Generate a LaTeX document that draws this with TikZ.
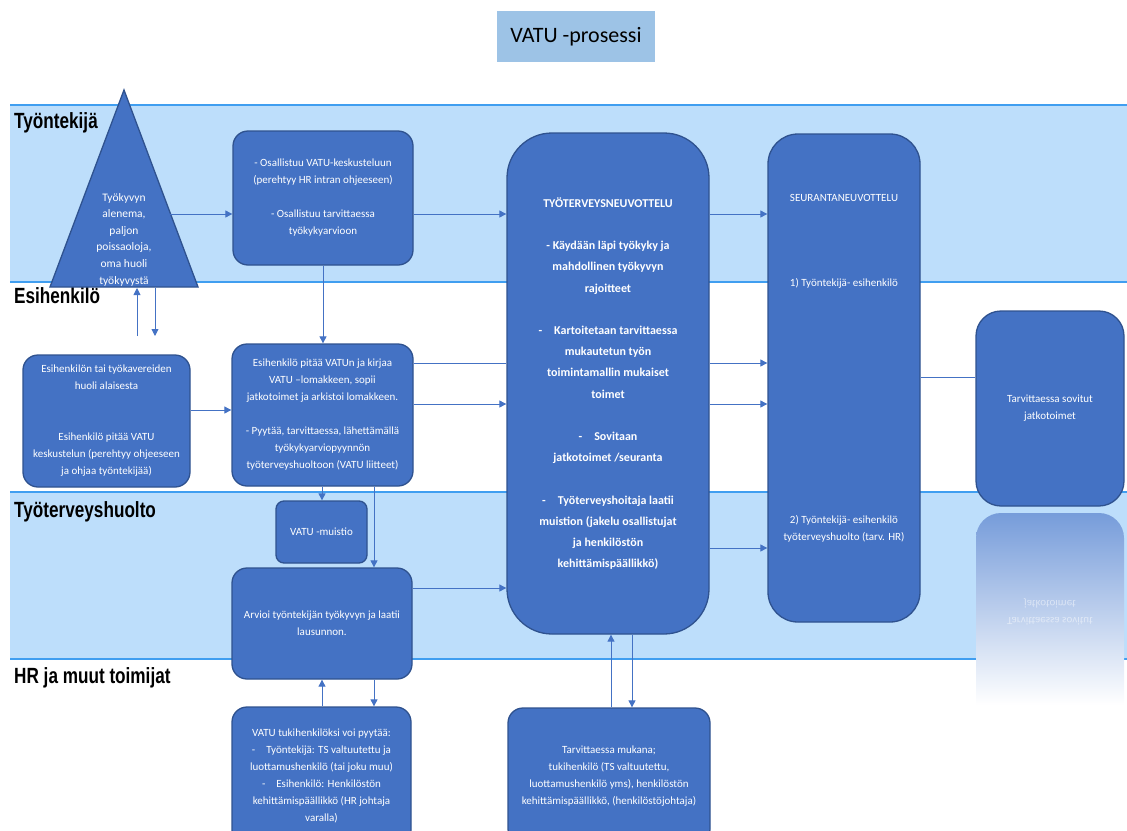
\documentclass[tikz,border=0pt]{standalone}
\usepackage{fontspec}
\setmainfont{Carlito}
\newfontfamily\lanefont{Liberation Sans}
\usetikzlibrary{arrows.meta}
\definecolor{laneblue}{RGB}{189,222,251}
\definecolor{laneline}{RGB}{64,158,240}
\definecolor{boxfill}{RGB}{68,114,196}
\definecolor{boxedge}{RGB}{47,82,143}
\definecolor{titlefill}{RGB}{157,195,230}
\definecolor{reflcol}{RGB}{118,156,218}
\newcommand{\lanetxt}[1]{{\lanefont\bfseries\fontsize{22}{24}\selectfont\scalebox{0.78}[1]{#1}}}
\begin{document}
\begin{tikzpicture}[x=1pt,y=1pt,
  box/.style={draw=boxedge, line width=1.3pt, fill=boxfill, text=white, align=center, inner sep=0pt, font=\fontsize{11}{17}\selectfont},
  boxtext/.style={text=white, align=center, inner sep=0pt, font=\fontsize{11}{17}\selectfont},
  arr/.style={draw=boxfill, line width=0.9pt, -{Triangle[length=7pt,width=7pt]}},
  conn/.style={draw=boxfill, line width=0.9pt},
  lanelabel/.style={anchor=base west, inner sep=0pt, text=black},
  laneedge/.style={draw=laneline, line width=2pt}
]
\useasboundingbox (0,0) rectangle (1127,-830);
\clip (0,0) rectangle (1127,-830);

% title
\node[fill=titlefill, minimum width=158pt, minimum height=51pt, inner sep=0pt, font=\fontsize{22}{26}\selectfont] (title) at (576,-36.5) {VATU -prosessi};

% lanes
\fill[laneblue] (10,-105) rectangle (1127,-282);
\fill[laneblue] (10,-492) rectangle (1127,-658.5);
\draw[laneedge] (10,-105) -- (1127,-105);
\draw[laneedge] (10,-282) -- (1127,-282);
\draw[laneedge] (10,-492) -- (1127,-492);
\draw[laneedge] (10,-658.5) -- (1127,-658.5);

\node[lanelabel] (l1) at (14,-128) {\lanetxt{Työntekijä}};
\node[lanelabel] (l2) at (14,-303) {\lanetxt{Esihenkilö}};
\node[lanelabel] (l3) at (14,-517) {\lanetxt{Työterveyshuolto}};
\node[lanelabel] (l4) at (14,-683) {\lanetxt{HR ja muut toimijat}};

% triangle
\path[draw=boxedge, line width=1.3pt, fill=boxfill] (124,-90) -- (198,-287) -- (50,-287) -- cycle;
\node[boxtext, font=\fontsize{11.5}{16.6}\selectfont] (tri) at (124,-239.5) {Työkyvyn\\alenema,\\paljon\\poissaoloja,\\oma huoli\\työkyvystä};

% boxes
\node[box, rounded corners=15pt, minimum width=180pt, minimum height=134pt] (A) at (323,-198)
  {- Osallistuu VATU-keskusteluun\\(perehtyy HR intran ohjeeseen)\\[17pt]- Osallistuu tarvittaessa\\työkykyarvioon};
\node[box, rounded corners=15pt, minimum width=167pt, minimum height=132pt] (B) at (106.5,-421)
  {Esihenkilön tai työkavereiden\\huoli alaisesta\\[34pt]Esihenkilö pitää VATU\\keskustelun (perehtyy ohjeeseen\\ja ohjaa työntekijää)};
\node[box, rounded corners=15pt, minimum width=181pt, minimum height=142pt] (C) at (322.5,-415)
  {Esihenkilö pitää VATUn ja kirjaa\\VATU –lomakkeen, sopii\\jatkotoimet ja arkistoi lomakkeen.\\[17pt]- Pyytää, tarvittaessa, lähettämällä\\työkykyarviopyynnön\\työterveyshuoltoon (VATU liitteet)};
\node[box, rounded corners=8pt, minimum width=91pt, minimum height=62pt] (D) at (321.5,-532) {VATU -muistio};
\node[box, rounded corners=15pt, minimum width=180pt, minimum height=111pt] (E) at (322,-623.5)
  {Arvioi työntekijän työkyvyn ja laatii\\lausunnon.};
\node[box, rounded corners=15pt, minimum width=179pt, minimum height=138pt] (F) at (321.5,-776)
  {VATU tukihenkilöksi voi pyytää:\\-\quad Työntekijä: TS valtuutettu ja\\luottamushenkilö (tai joku muu)\\-\quad Esihenkilö: Henkilöstön\\kehittämispäällikkö (HR johtaja\\varalla)};
\node[box, rounded corners=15pt, minimum width=202pt, minimum height=136pt] (G) at (609,-776)
  {Tarvittaessa mukana;\\tukihenkilö (TS valtuutettu,\\luottamushenkilö yms), henkilöstön\\kehittämispäällikkö, (henkilöstöjohtaja)};
\node[box, rounded corners=45pt, minimum width=202pt, minimum height=501pt, font=\bfseries\fontsize{12}{21.2}\selectfont] (H) at (608,-383.5)
  {TYÖTERVEYSNEUVOTTELU\\[21.2pt]- Käydään läpi työkyky ja\\mahdollinen työkyvyn\\rajoitteet\\[21.2pt]-\quad Kartoitetaan tarvittaessa\\mukautetun työn\\toimintamallin mukaiset\\toimet\\[21.2pt]-\quad Sovitaan\\jatkotoimet /seuranta\\[21.2pt]-\quad Työterveyshoitaja laatii\\muistion (jakelu osallistujat\\ja henkilöstön\\kehittämispäällikkö)};
\node[box, rounded corners=30pt, minimum width=152pt, minimum height=488pt] (I) at (844,-378) {};
\node[boxtext] (I1) at (844,-198) {SEURANTANEUVOTTELU};
\node[boxtext] (I2) at (844,-283) {1) Työntekijä- esihenkilö};
\node[boxtext] (I3) at (844,-529) {2) Työntekijä- esihenkilö\\työterveyshuolto (tarv. HR)};

% reflection under J
\shade[top color=reflcol, bottom color=white] (976,-705) -- (976,-538) arc(180:90:25) -- (1099,-513) arc(90:0:25) -- (1124,-705) -- cycle;
\node[boxtext, yscale=-1, transform shape, text opacity=0.5] (Jr) at (1050,-612) {Tarvittaessa sovitut\\jatkotoimet};
\node[box, rounded corners=25pt, minimum width=148pt, minimum height=195pt] (J) at (1050,-408.5)
  {Tarvittaessa sovitut\\jatkotoimet};

% connectors
\coordinate (t1) at (170,-214);
\draw[arr] (t1) -- (t1 -| A.west);
\draw[arr] (A.east |- t1) -- (H.west |- t1);
\draw[arr] (H.east |- t1) -- (I.west |- t1);
\draw[arr] (A.south) -- (A.south |- C.north);
\coordinate (u1) at (137,-336);
\coordinate (u2) at (137,-288);
\draw[arr] (u1) -- (u2);
\coordinate (d1) at (155,-288);
\coordinate (d2) at (155,-336);
\draw[arr] (d1) -- (d2);
\coordinate (b1) at (0,-410);
\draw[arr] (B.east |- b1) -- (C.west |- b1);
\coordinate (c1) at (0,-363);
\coordinate (c2) at (0,-404);
\draw[conn] (C.east |- c1) -- (H.west |- c1);
\draw[arr] (C.east |- c2) -- (H.west |- c2);
\draw[arr] (H.east |- c1) -- (I.west |- c1);
\draw[arr] (H.east |- c2) -- (I.west |- c2);
\coordinate (h3) at (0,-548);
\draw[arr] (H.east |- h3) -- (I.west |- h3);
\coordinate (e1) at (0,-588);
\draw[arr] (E.east |- e1) -- (H.west |- e1);
\coordinate (x1) at (322,0);
\coordinate (x2) at (374,0);
\draw[arr] (C.south -| x1) -- (D.north -| x1);
\draw[arr] (C.south -| x2) -- (E.north -| x2);
\draw[arr] (F.north -| x1) -- (E.south -| x1);
\draw[arr] (E.south -| x2) -- (F.north -| x2);
\coordinate (g1) at (611,0);
\coordinate (g2) at (632,0);
\draw[arr] (G.north -| g1) -- (H.south -| g1);
\draw[arr] (H.south -| g2) -- (G.north -| g2);
\coordinate (j1) at (0,-377);
\draw[conn] (I.east |- j1) -- (J.west |- j1);
\end{tikzpicture}
\end{document}
